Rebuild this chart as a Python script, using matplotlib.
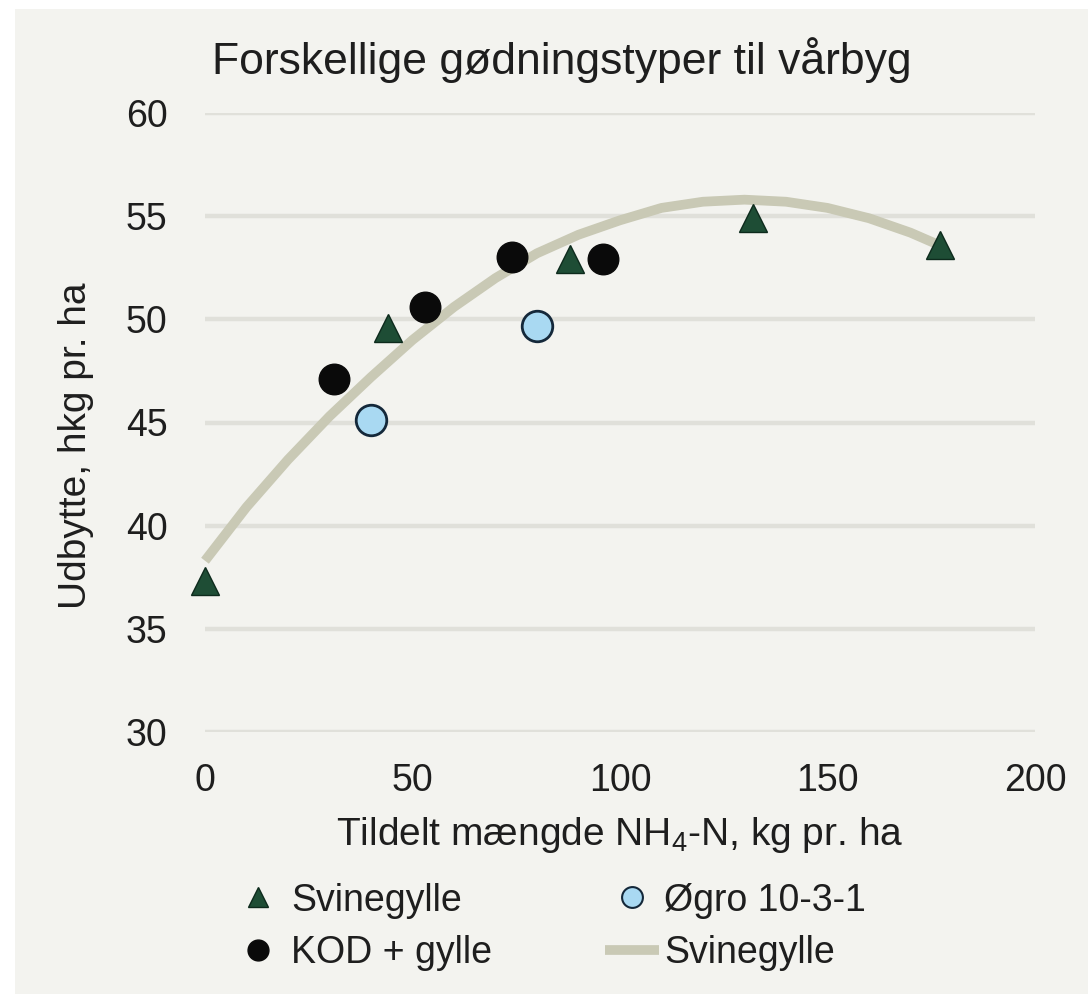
import matplotlib
matplotlib.use("Agg")
import matplotlib.pyplot as plt
from matplotlib.patches import Rectangle

# -----------------------
# Data
# -----------------------
svin_x = [0, 44, 88, 132, 177]
svin_y = [37.3, 49.6, 52.9, 54.9, 53.6]

kod_x = [31, 53, 74, 96]
kod_y = [47.1, 50.6, 53.0, 52.9]

ogro_x = [40, 80]
ogro_y = [45.1, 49.7]

# trend line for Svinegylle
trend_x = [0, 10, 20, 30, 40, 50, 60, 70, 80, 90, 100, 110, 120, 130, 140, 150, 160, 170, 178]
trend_y = [38.3, 40.9, 43.2, 45.3, 47.2, 49.0, 50.6, 52.0, 53.2, 54.1, 54.8, 55.4, 55.7, 55.8,
           55.7, 55.4, 54.9, 54.2, 53.5]

title = "Forskellige gødningstyper til vårbyg"
xlabel = "Tildelt mængde NH$_4$-N, kg pr. ha"
ylabel = "Udbytte, hkg pr. ha"
xticks = [0, 50, 100, 150, 200]
yticks = [30, 35, 40, 45, 50, 55, 60]

# -----------------------
# Style
# -----------------------
plt.rcParams['font.family'] = ['Liberation Sans', 'DejaVu Sans']
plt.rcParams['mathtext.fontset'] = 'custom'
plt.rcParams['mathtext.rm'] = 'Liberation Sans'
bg = "#f3f3ef"
grid_col = "#e0e0da"
trend_col = "#c9c9b5"
green = "#1e4d35"
blue = "#a9d9f2"
txt = "#1e1e1e"
fs = 27

fig = plt.figure(figsize=(10.88, 9.94), dpi=100, facecolor="white")
fig.patches.append(Rectangle((15 / 1088, 0), 1, 1 - 9 / 994, transform=fig.transFigure,
                             facecolor=bg, edgecolor="none", zorder=-10))

ax = fig.add_axes([205 / 1088, 1 - 732 / 994, 830 / 1088, (732 - 113) / 994])
ax.patch.set_alpha(0)

ax.set_xlim(0, 200)
ax.set_ylim(30, 60)
ax.set_xticks(xticks)
ax.set_yticks(yticks)
for s in ax.spines.values():
    s.set_visible(False)
ax.tick_params(length=0, labelsize=fs, colors=txt)
ax.tick_params(axis='x', pad=22)
ax.tick_params(axis='y', pad=27)
for yv in yticks:
    ax.axhline(yv, color=grid_col, lw=3.2, zorder=0, solid_capstyle='butt')

ax.plot(trend_x, trend_y, color=trend_col, lw=7, solid_capstyle='butt', zorder=2,
        label="Svinegylle", clip_on=False)
ax.plot(svin_x, svin_y, linestyle='none', marker='^', ms=20, color=green,
        markeredgecolor="#0d2a1c", mew=1, zorder=3, label="Svinegylle", clip_on=False)
ax.plot(kod_x, kod_y, linestyle='none', marker='o', ms=22, color="#0a0a0a",
        markeredgecolor="#0a0a0a", zorder=3, label="KOD + gylle", clip_on=False)
ax.plot(ogro_x, ogro_y, linestyle='none', marker='o', ms=22, color=blue,
        markeredgecolor="#14283a", mew=2, zorder=3, label="Øgro 10-3-1", clip_on=False)

# axis titles placed in figure pixels
fig.text(620 / 1088, 1 - 835 / 994, xlabel, fontsize=28, ha='center', va='center', color=txt)
fig.text(76 / 1088, 1 - 446 / 994, ylabel, fontsize=28, ha='center', va='center',
         rotation=90, color=txt)
fig.text(562 / 1088, 1 - 60 / 994, title, fontsize=32, ha='center', va='center', color=txt)

h, l = ax.get_legend_handles_labels()
# order: triangle, KOD, Øgro, line
order = [1, 2, 3, 0]
leg = fig.legend([h[i] for i in order], [l[i] for i in order], ncol=2,
                 loc='center left', bbox_to_anchor=(231 / 1088, 1 - 927 / 994),
                 frameon=False, fontsize=fs, handlelength=1.45,
                 handletextpad=0.15, columnspacing=3.0, labelspacing=0.45,
                 borderpad=0, borderaxespad=0)
for t in leg.get_texts():
    t.set_color(txt)
for lh in leg.legend_handles:
    if lh.get_marker() in ('^', 'o'):
        lh.set_markersize(15)
        lh.set_markeredgewidth(1.5 if lh.get_markerfacecolor() == blue else 1)

fig.savefig("out.png", dpi=100, facecolor=fig.get_facecolor())
